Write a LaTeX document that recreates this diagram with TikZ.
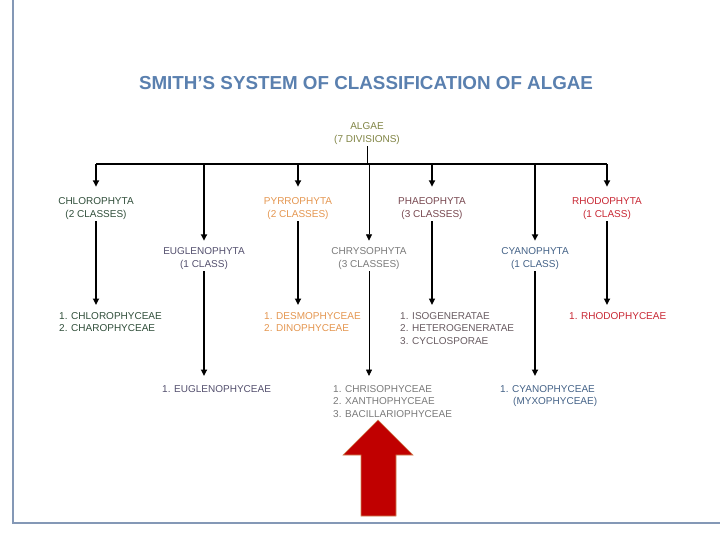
\documentclass[tikz,border=0pt]{standalone}
\usepackage{fontspec}
\setmainfont{Liberation Sans}
\usepackage{xcolor}
\usetikzlibrary{positioning,arrows.meta}
\definecolor{titleblue}{RGB}{90,128,175}
\definecolor{framecol}{RGB}{132,152,182}
\definecolor{algaeol}{RGB}{128,132,68}
\definecolor{chlorocol}{RGB}{48,78,58}
\definecolor{pyrrocol}{RGB}{228,150,80}
\definecolor{phaeocol}{RGB}{120,72,80}
\definecolor{phaeocls}{RGB}{105,92,98}
\definecolor{rhodocol}{RGB}{200,40,52}
\definecolor{euglcol}{RGB}{84,80,110}
\definecolor{chrysocol}{RGB}{122,122,122}
\definecolor{cyanocol}{RGB}{68,98,135}
\definecolor{bigred}{RGB}{192,0,0}
\definecolor{redrim}{RGB}{205,135,85}
\tikzset{
  title/.style ={font=\fontsize{18.8}{22}\selectfont\bfseries, text=titleblue, inner sep=0pt},
  divn/.style  ={align=center, inner sep=1pt, font=\fontsize{10}{13}\selectfont},
  cls/.style   ={align=left, anchor=north west, inner sep=1pt, inner xsep=0pt,
                 font=\fontsize{10}{12.6}\selectfont},
  bus/.style   ={line width=1.7pt, draw=black},
  stem/.style  ={line width=0.8pt, draw=black},
  arr/.style   ={-{Triangle[length=6.5pt,width=6pt]}, line width=2.3pt, draw=black,
                 shorten >=6pt},
  framed/.style={line width=2.6pt, draw=framecol},
}
\begin{document}
\begin{tikzpicture}[x=1pt,y=-1pt]
  \useasboundingbox (0,0) rectangle (720,540);
  % slide frame
  \draw[framed] (13,0) -- (13,523) -- (720,523);

  % heading
  \node[title] (title) at (366,83.5) {SMITH'S SYSTEM OF CLASSIFICATION OF ALGAE};

  % root
  \node[divn, text=algaeol] (algae) at (367,134) {ALGAE\\(7 DIVISIONS)};
  \path (algae.south) ++(0,18) coordinate (bar);

  % upper row of divisions
  \node[divn, text=chlorocol] (chloro) at (96,209) {CHLOROPHYTA\\(2 CLASSES)};
  \node[divn, text=pyrrocol]  (pyrro)  at (298,209) {PYRROPHYTA\\(2 CLASSES)};
  \node[divn, text=phaeocol]  (phaeo)  at (432,209) {PHAEOPHYTA\\(3 CLASSES)};
  \node[divn, text=rhodocol]  (rhodo)  at (607,209) {RHODOPHYTA\\(1 CLASS)};

  % lower row of divisions
  \node[divn, text=euglcol]   (eugl)   at (204,259) {EUGLENOPHYTA\\(1 CLASS)};
  \node[divn, text=chrysocol] (chryso) at (369,259) {CHRYSOPHYTA\\(3 CLASSES)};
  \node[divn, text=cyanocol]  (cyano)  at (535,259) {CYANOPHYTA\\(1 CLASS)};

  % classes of the upper row
  \node[cls, text=chlorocol] (chlorocls) at (59,311) {1. CHLOROPHYCEAE\\2. CHAROPHYCEAE};
  \node[cls, text=pyrrocol]  (pyrrocls)  at (264,311) {1. DESMOPHYCEAE\\2. DINOPHYCEAE};
  \node[cls, text=phaeocls]  (phaeocls)  at (400,311) {1. ISOGENERATAE\\2. HETEROGENERATAE\\3. CYCLOSPORAE};
  \node[cls, text=rhodocol]  (rhodocls)  at (569,311) {1. RHODOPHYCEAE};

  % classes of the lower row
  \node[cls, text=euglcol]   (euglcls)   at (162,384) {1. EUGLENOPHYCEAE};
  \node[cls, text=chrysocol] (chrysocls) at (333,384) {1. CHRISOPHYCEAE\\2. XANTHOPHYCEAE\\3. BACILLARIOPHYCEAE};
  \node[cls, text=cyanocol]  (cyanocls)  at (500,384) {1. CYANOPHYCEAE\\\hspace*{13pt}(MYXOPHYCEAE)};

  % bus from the root
  \draw[stem] (algae) -- (bar);
  \draw[bus] (bar -| chloro) -- (bar -| rhodo);

  % arrows to the divisions
  \draw[arr, shorten >=10pt] (bar -| chloro) -- (chloro);
  \draw[arr, shorten >=10pt] (bar -| pyrro) -- (pyrro);
  \draw[arr, shorten >=10pt] (bar -| phaeo) -- (phaeo);
  \draw[arr, shorten >=10pt] (bar -| rhodo) -- (rhodo);
  \draw[arr] (bar -| eugl) -- (eugl);
  \draw[arr, line width=0.8pt] (bar -| chryso) -- (chryso);
  \draw[arr] (bar -| cyano) -- (cyano);

  % arrows to the classes
  \draw[arr] (chloro) -- (chloro |- chlorocls.north);
  \draw[arr] (pyrro) -- (pyrro |- pyrrocls.north);
  \draw[arr, line width=1.5pt] (phaeo) -- (phaeo |- phaeocls.north);
  \draw[arr] (rhodo) -- (rhodo |- rhodocls.north);
  \draw[arr, shorten >=8pt] (eugl) -- (eugl |- euglcls.north);
  \draw[arr, line width=0.8pt, shorten >=8pt] (chryso) -- (chryso |- chrysocls.north);
  \draw[arr, shorten >=8pt] (cyano) -- (cyano |- cyanocls.north);

  % big pointer
  \filldraw[fill=bigred, draw=redrim, line width=0.6pt]
    (361,516) -- (361,455) -- (343,455) -- (378,420) -- (413,455) -- (396,455) -- (396,516) -- cycle;
\end{tikzpicture}
\end{document}
